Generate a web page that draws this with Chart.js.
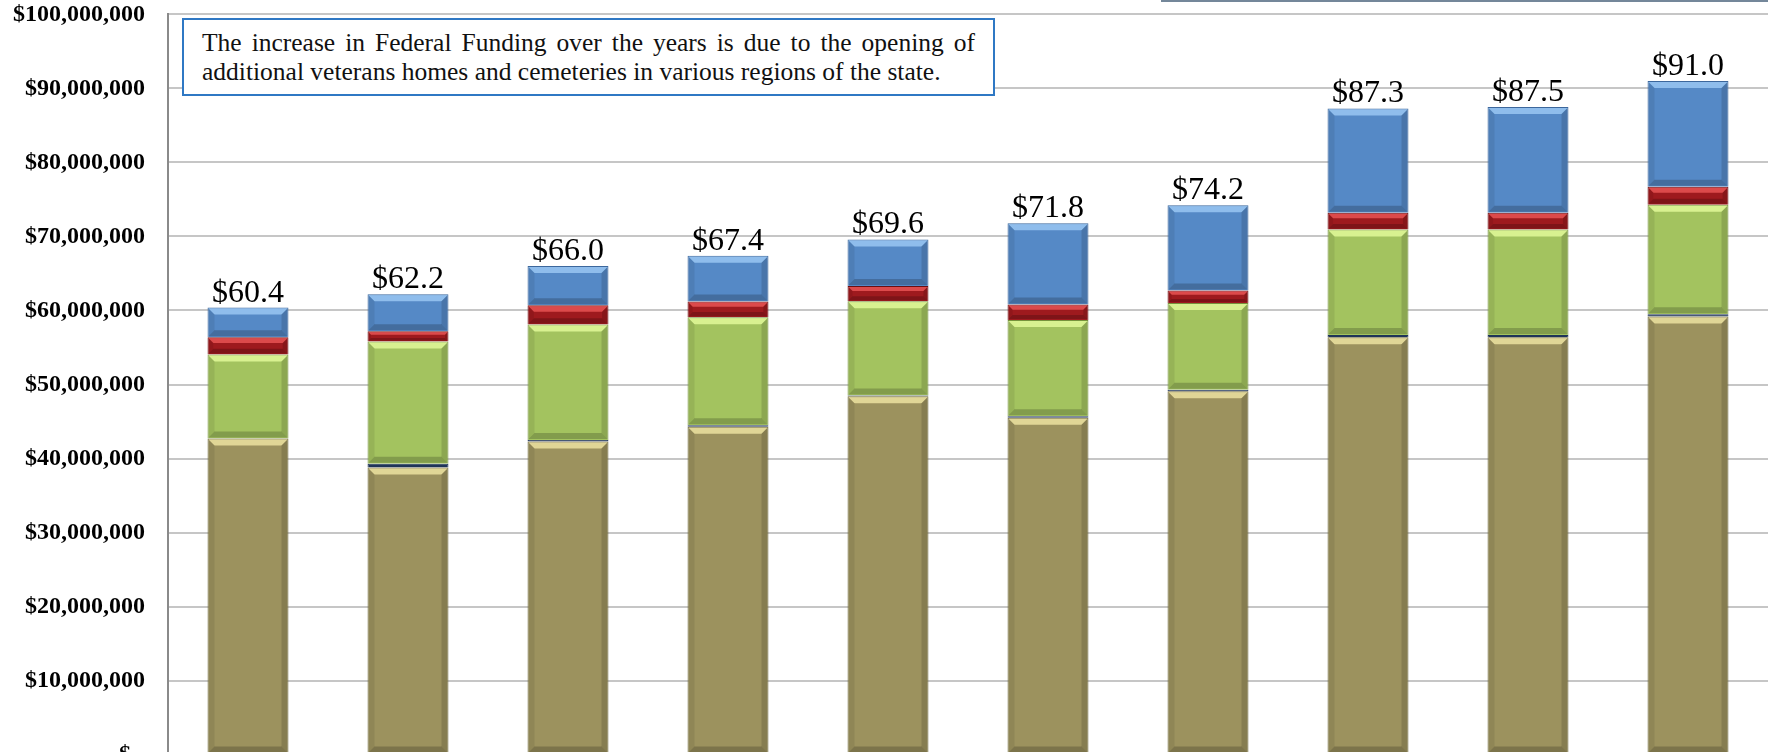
<!DOCTYPE html>
<html>
<head>
<meta charset="utf-8">
<script src="https://cdn.jsdelivr.net/npm/chart.js@4"></script>
<style>
  html, body { margin: 0; padding: 0; background: #fff; overflow: hidden; }
  #wrap { position: absolute; left: 0; top: -23px; width: 1768px; height: 815px; }
  #note {
    position: absolute; left: 182px; top: 18px; width: 773px; height: 74px;
    padding: 0 18px; border: 2px solid #2f78c4; background: #fff;
    font-family: 'Liberation Serif', serif; font-size: 25.5px; line-height: 29px; color: #111;
    box-sizing: content-box;
  }
  #note .l1 { padding-top: 8px; white-space: nowrap; text-align: justify; text-align-last: justify; }
  #note .l2 { white-space: nowrap; }
  #legendEdge { position: absolute; left: 1161px; top: 0; width: 607px; height: 2px; background: #74879a; }
</style>
</head>
<body>
<div id="wrap"><canvas id="fundChart"></canvas></div>
<div id="note">
  <div class="l1">The increase in Federal Funding over the years is due to the opening of</div>
  <div class="l2">additional veterans homes and cemeteries in various regions of the state.</div>
</div>
<div id="legendEdge"></div>
<script>
// categories (axis labels fall below the visible area)
const labels = ['Year 1', 'Year 2', 'Year 3', 'Year 4', 'Year 5', 'Year 6', 'Year 7', 'Year 8', 'Year 9', 'Year 10'];

// segment values, millions of dollars, bottom to top
const olive = [42.7, 38.8, 42.3, 44.3, 48.4, 45.5, 49.1, 56.4, 56.4, 59.2];
const navy  = [0.0, 0.5, 0.2, 0.2, 0.1, 0.2, 0.2, 0.3, 0.3, 0.3];
const green = [11.35, 16.5, 15.6, 14.6, 12.75, 13.0, 11.7, 14.25, 14.25, 14.8];
const red   = [2.35, 1.4, 2.6, 2.1, 2.05, 2.1, 1.7, 2.25, 2.25, 2.4];
const blue  = [4.0, 5.0, 5.3, 6.2, 6.3, 11.0, 11.5, 14.1, 14.3, 14.3];

// totals shown above each bar
const totals = [60.4, 62.2, 66.0, 67.4, 69.6, 71.8, 74.2, 87.3, 87.5, 91.0];

const M = 1000000;
const toDollars = arr => arr.map(v => v * M);

const data = {
    labels: labels,
    datasets: [
        { label: 'Series 1', data: toDollars(olive), backgroundColor: '#9c925e', borderColor: '#6f6838', light: 'rgba(236,226,160,0.85)' },
        { label: 'Series 2', data: toDollars(navy),  backgroundColor: '#1f3458', borderColor: '#1f3458', light: null },
        { label: 'Series 3', data: toDollars(green), backgroundColor: '#a3c35f', borderColor: '#76923c', light: 'rgba(222,246,150,0.9)' },
        { label: 'Series 4', data: toDollars(red),   backgroundColor: '#9e1a1e', borderColor: '#6b0f12', light: 'rgba(226,80,80,0.9)' },
        { label: 'Series 5', data: toDollars(blue),  backgroundColor: '#5589c6', borderColor: '#3c679c', light: 'rgba(150,195,240,0.9)' }
    ]
};
data.datasets.forEach(ds => {
    ds.borderWidth = 1;
    ds.barPercentage = 0.506;
    ds.categoryPercentage = 1;
});

// bevel look on every bar segment
const bevel = {
    id: 'bevel',
    afterDatasetsDraw(chart) {
        const ctx = chart.ctx;
        chart.data.datasets.forEach((ds, i) => {
            if (!ds.light) return;
            chart.getDatasetMeta(i).data.forEach(bar => {
                const p = bar.getProps(['x', 'y', 'base', 'width'], true);
                const l = p.x - p.width / 2, r = p.x + p.width / 2;
                const t = Math.min(p.y, p.base), b = Math.max(p.y, p.base);
                const h = b - t;
                if (h < 5) return;
                const d = Math.min(7, h / 3);
                ctx.save();
                // top highlight
                ctx.fillStyle = ds.light;
                ctx.beginPath();
                ctx.moveTo(l + 1, t + 1); ctx.lineTo(r - 1, t + 1);
                ctx.lineTo(r - d, t + d); ctx.lineTo(l + d, t + d);
                ctx.closePath(); ctx.fill();
                // bottom shade
                ctx.fillStyle = 'rgba(0,0,0,0.2)';
                ctx.beginPath();
                ctx.moveTo(l + 1, b - 1); ctx.lineTo(r - 1, b - 1);
                ctx.lineTo(r - d, b - d); ctx.lineTo(l + d, b - d);
                ctx.closePath(); ctx.fill();
                // side shades
                ctx.fillStyle = 'rgba(0,0,0,0.08)';
                ctx.beginPath();
                ctx.moveTo(l + 1, t + 1); ctx.lineTo(l + d, t + d);
                ctx.lineTo(l + d, b - d); ctx.lineTo(l + 1, b - 1);
                ctx.closePath(); ctx.fill();
                ctx.fillStyle = 'rgba(0,0,0,0.14)';
                ctx.beginPath();
                ctx.moveTo(r - 1, t + 1); ctx.lineTo(r - d, t + d);
                ctx.lineTo(r - d, b - d); ctx.lineTo(r - 1, b - 1);
                ctx.closePath(); ctx.fill();
                ctx.restore();
            });
        });
    }
};

// totals written above the stacks
const totalLabels = {
    id: 'totalLabels',
    afterDraw(chart) {
        const ctx = chart.ctx;
        const topMeta = chart.getDatasetMeta(chart.data.datasets.length - 1);
        ctx.save();
        ctx.fillStyle = '#000';
        ctx.textAlign = 'center';
        ctx.textBaseline = 'alphabetic';
        ctx.font = '32px "Liberation Serif", serif';
        topMeta.data.forEach((bar, i) => {
            ctx.fillText('$' + totals[i].toFixed(1), bar.x, bar.y - 6);
        });
        ctx.restore();
    }
};

const config = {
    type: 'bar',
    data: data,
    plugins: [bevel, totalLabels],
    options: {
        responsive: true,
        maintainAspectRatio: false,
        animation: false,
        layout: { padding: { top: 15, right: 0, bottom: 0, left: 0 } },
        plugins: {
            legend: { display: false },
            tooltip: { enabled: false }
        },
        scales: {
            x: {
                stacked: true,
                grid: { display: false },
                border: { display: false },
                ticks: { display: false },
                afterFit: s => { s.height = 35; }
            },
            y: {
                stacked: true,
                min: 0,
                max: 100 * M,
                ticks: {
                    stepSize: 10 * M,
                    padding: 23,
                    color: '#000',
                    font: { family: '"Liberation Serif", serif', size: 24, weight: 'bold' },
                    callback: v => v === 0 ? '$ -' : '$' + v.toLocaleString('en-US')
                },
                grid: { color: '#c6c6c6', lineWidth: 2, drawTicks: false },
                border: { color: '#8a8a8a', width: 2 },
                afterFit: s => { s.width = 168; }
            }
        }
    }
};

window.onload = () => {
    const ctx = document.getElementById('fundChart').getContext('2d');
    new Chart(ctx, config);
};
</script>
</body>
</html>
